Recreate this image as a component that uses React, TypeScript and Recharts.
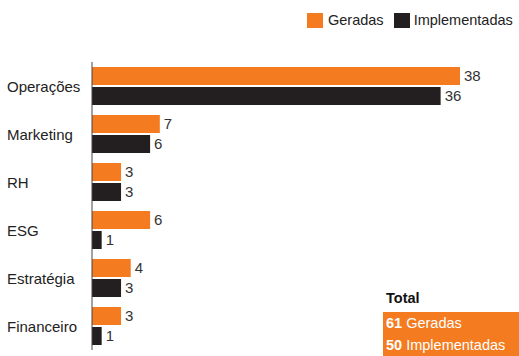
import React from "react";
import { BarChart, Bar, XAxis, YAxis, LabelList } from "recharts";

const categories = ["Operações", "Marketing", "RH", "ESG", "Estratégia", "Financeiro"];
const geradas = [38, 7, 3, 6, 4, 3];
const implementadas = [36, 6, 3, 1, 3, 1];

const ORANGE = "#F47B20";
const DARK = "#231F20";
const FONT = "'Liberation Sans', Arial, sans-serif";

const data = categories.map((c, i) => ({ name: c, geradas: geradas[i], implementadas: implementadas[i] }));
const totalG = geradas.reduce((a, b) => a + b, 0);
const totalI = implementadas.reduce((a, b) => a + b, 0);

const Tick = (props: any) => {
  const { y, payload } = props;
  return (
    <text x={7} y={y} textAnchor="start" dominantBaseline="central" fontSize={15} fill="#222" fontFamily={FONT}>
      {payload.value}
    </text>
  );
};

export default function App() {
  return (
    <div style={{ position: "absolute", left: 0, top: 0, width: 519, height: 356, background: "#fff", fontFamily: FONT, overflow: "hidden" }}>
      <BarChart
        width={519}
        height={356}
        data={data}
        layout="vertical"
        margin={{ top: 62, right: 59, bottom: 6, left: 0 }}
        barSize={18}
        barGap={2}
      >
        <XAxis type="number" domain={[0, 38]} hide />
        <YAxis
          type="category"
          dataKey="name"
          width={92}
          tick={<Tick />}
          tickLine={false}
          axisLine={{ stroke: "#444", strokeWidth: 1 }}
        />
        <Bar dataKey="geradas" fill={ORANGE} isAnimationActive={false}>
          <LabelList dataKey="geradas" position="right" offset={4} fill="#333" fontSize={15} fontFamily={FONT} />
        </Bar>
        <Bar dataKey="implementadas" fill={DARK} isAnimationActive={false}>
          <LabelList dataKey="implementadas" position="right" offset={4} fill="#333" fontSize={15} fontFamily={FONT} />
        </Bar>
      </BarChart>

      <div style={{ position: "absolute", left: 307, top: 13, display: "flex", alignItems: "center", fontSize: 14.5, color: "#222", lineHeight: "15px" }}>
        <span style={{ width: 16, height: 15, background: ORANGE, display: "inline-block", marginRight: 5 }} />
        <span style={{ marginRight: 10 }}>Geradas</span>
        <span style={{ width: 16, height: 15, background: DARK, display: "inline-block", marginRight: 4 }} />
        <span>Implementadas</span>
      </div>

      <div style={{ position: "absolute", left: 386, top: 290, fontSize: 14.5, fontWeight: "bold", color: "#111", lineHeight: "16px" }}>Total</div>
      <div style={{ position: "absolute", left: 383, top: 312, width: 136, height: 44, background: ORANGE, color: "#fff", fontSize: 14.5, lineHeight: "22px", paddingLeft: 3, boxSizing: "border-box" }}>
        <div><b>{totalG}</b> Geradas</div>
        <div><b>{totalI}</b> Implementadas</div>
      </div>
    </div>
  );
}
